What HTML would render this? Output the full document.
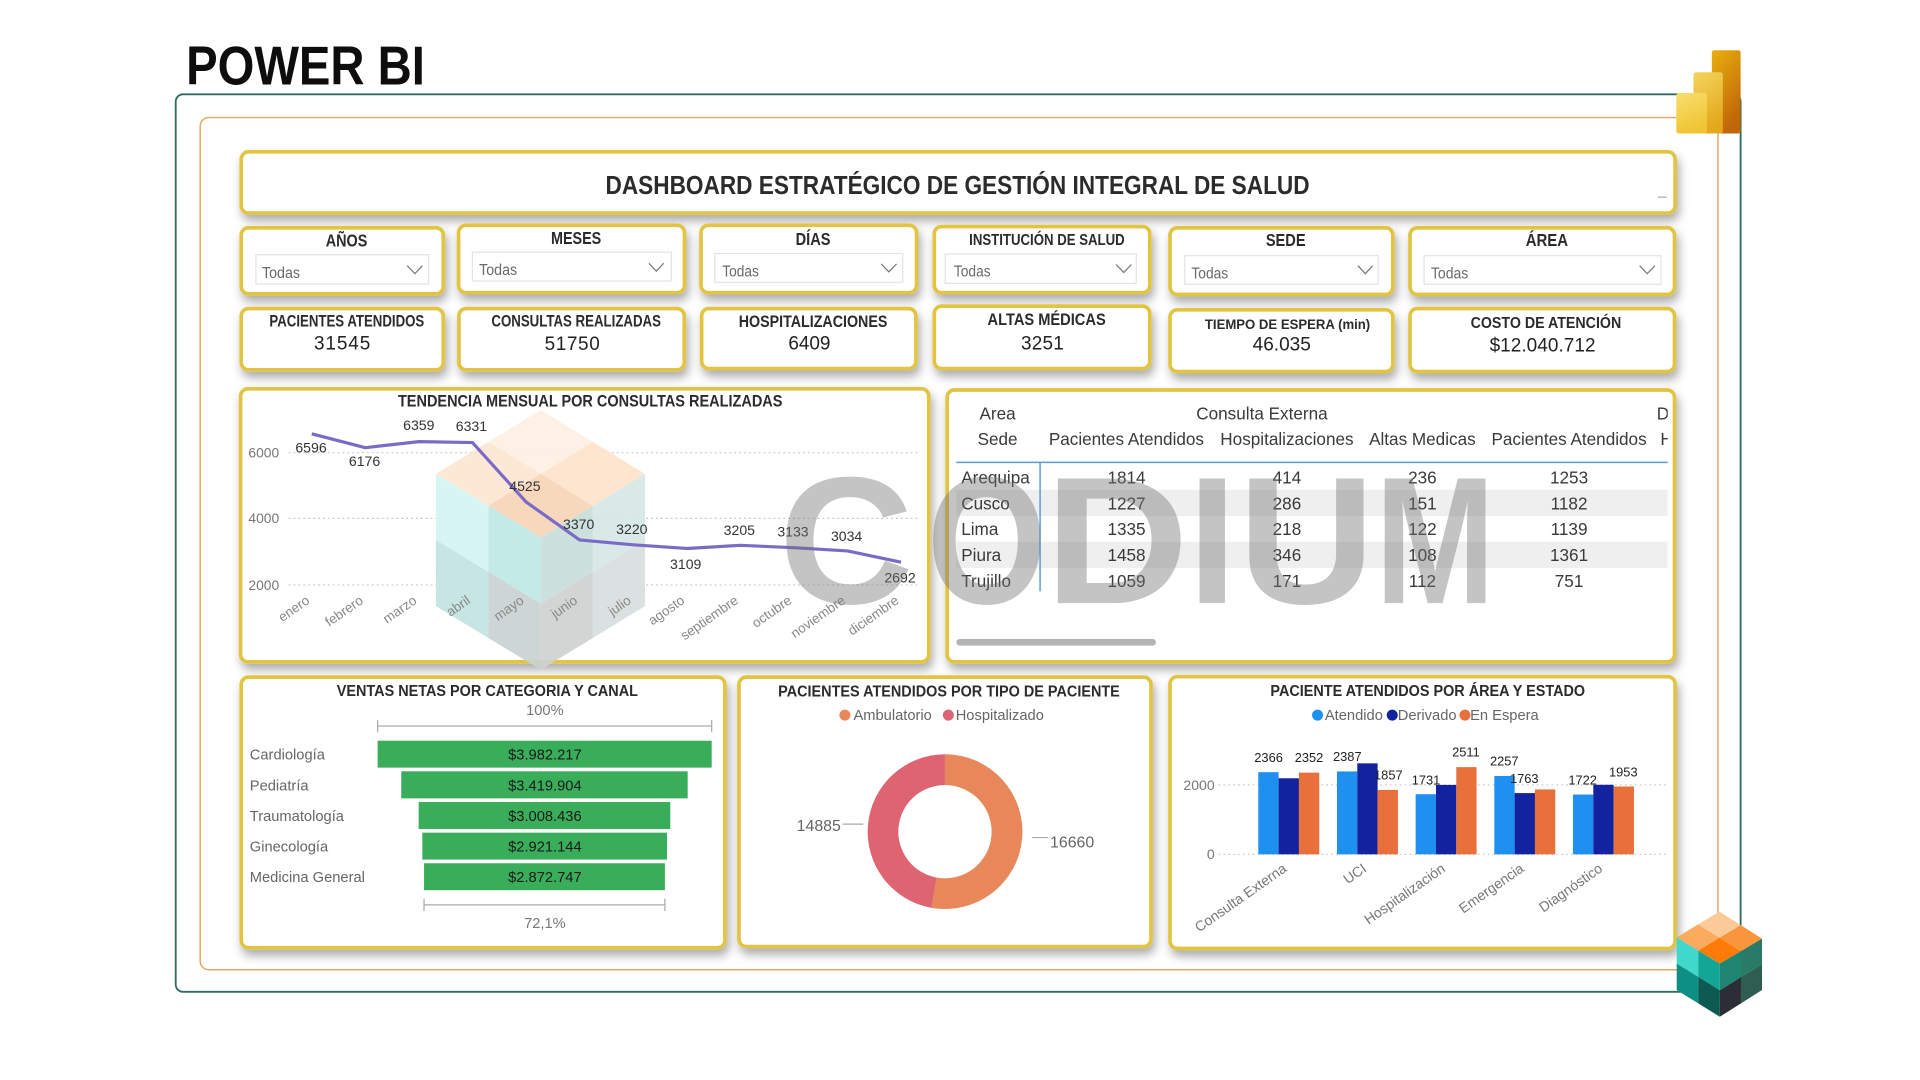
<!DOCTYPE html>
<html><head><meta charset="utf-8"><title>Power BI Dashboard</title>
<style>
html,body{margin:0;padding:0;background:#fff;width:1920px;height:1080px;overflow:hidden}
svg{display:block}
text{font-family:"Liberation Sans",sans-serif}
.b{font-weight:bold}
</style></head><body>
<svg xmlns="http://www.w3.org/2000/svg" width="1920" height="1080" viewBox="0 0 1568 882">
<defs>
<filter id="sh" x="-10%" y="-20%" width="125%" height="150%"><feDropShadow dx="2" dy="5" stdDeviation="4" flood-color="#000" flood-opacity="0.33"/></filter>
<linearGradient id="g1" x1="0" y1="0" x2="0.4" y2="1"><stop offset="0" stop-color="#e8b00c"/><stop offset="1" stop-color="#c2660a"/></linearGradient>
<linearGradient id="g2" x1="0" y1="0" x2="0.3" y2="1"><stop offset="0" stop-color="#f4d45e"/><stop offset="1" stop-color="#e3a81c"/></linearGradient>
<linearGradient id="g3" x1="0" y1="0" x2="0.3" y2="1"><stop offset="0" stop-color="#f8de6e"/><stop offset="1" stop-color="#efc535"/></linearGradient>
<clipPath id="tc"><rect x="778" y="322" width="584" height="214"/></clipPath>
</defs>
<rect width="1568" height="882" fill="#fff"/>

<!-- Heading -->
<text x="152" y="69" font-size="45" class="b" fill="#0d0d0d" textLength="195" lengthAdjust="spacingAndGlyphs">POWER BI</text>

<!-- Frames -->
<rect x="143.5" y="77" width="1278" height="733" rx="6" fill="none" stroke="#2f6b5f" stroke-width="1.5"/>
<rect x="163.5" y="96" width="1239.5" height="696" rx="7" fill="none" stroke="#e9a65d" stroke-width="1.2"/>

<!-- Cards -->
<g filter="url(#sh)" fill="#fff" stroke="#e2c443" stroke-width="3">
<rect x="197" y="124" width="1171" height="50" rx="6"/>
<rect x="197" y="186" width="165" height="54" rx="6"/>
<rect x="374.5" y="184" width="184.5" height="55" rx="6"/>
<rect x="572.5" y="184" width="176" height="55" rx="6"/>
<rect x="763" y="185" width="176" height="54" rx="6"/>
<rect x="955.5" y="186" width="182" height="54.5" rx="6"/>
<rect x="1151.5" y="186" width="216" height="54.5" rx="6"/>
<rect x="197" y="252" width="165" height="50" rx="6"/>
<rect x="374.8" y="252" width="184" height="50" rx="6"/>
<rect x="573" y="252" width="175" height="49" rx="6"/>
<rect x="763" y="250" width="176" height="51" rx="6"/>
<rect x="955.5" y="253" width="182" height="50.5" rx="6"/>
<rect x="1151.5" y="252" width="216" height="51.5" rx="6"/>
<rect x="196.5" y="317.5" width="562" height="223" rx="6"/>
<rect x="773.5" y="318.5" width="594" height="222" rx="6"/>
<rect x="197" y="553" width="395" height="221" rx="6"/>
<rect x="603.5" y="553" width="336.5" height="220" rx="6"/>
<rect x="955.5" y="552.6" width="412.5" height="222" rx="6"/>
</g>

<!-- Title -->
<text x="782" y="158.5" font-size="21" class="b" fill="#2b2b2b" text-anchor="middle" textLength="575" lengthAdjust="spacingAndGlyphs">DASHBOARD ESTRATÉGICO DE GESTIÓN INTEGRAL DE SALUD</text>
<line x1="1354" y1="161" x2="1361" y2="161" stroke="#aaa" stroke-width="1"/>

<!-- Slicers -->
<g class="b" font-size="14" fill="#2b2b2b" text-anchor="middle">
<text x="283" y="201.5" textLength="34" lengthAdjust="spacingAndGlyphs">AÑOS</text>
<text x="470.5" y="199.3" textLength="41" lengthAdjust="spacingAndGlyphs">MESES</text>
<text x="664" y="200" textLength="28.5" lengthAdjust="spacingAndGlyphs">DÍAS</text>
<text x="855" y="200" font-size="12.5" textLength="127" lengthAdjust="spacingAndGlyphs">INSTITUCIÓN DE SALUD</text>
<text x="1050" y="201" textLength="32.5" lengthAdjust="spacingAndGlyphs">SEDE</text>
<text x="1263.3" y="201" textLength="34.6" lengthAdjust="spacingAndGlyphs">ÁREA</text>
</g>
<g fill="#fff" stroke="#e4e4e4" stroke-width="1">
<rect x="209" y="208" width="141" height="24"/>
<rect x="385.8" y="206" width="162.5" height="23.5"/>
<rect x="583.7" y="207" width="153.5" height="23.5"/>
<rect x="772" y="207.4" width="156" height="24"/>
<rect x="967.5" y="208.8" width="158" height="23.4"/>
<rect x="1163" y="208.8" width="193.5" height="23.4"/>
</g>
<g font-size="12.5" fill="#6a6a6a">
<text x="214" y="227" textLength="31" lengthAdjust="spacingAndGlyphs">Todas</text>
<text x="391.3" y="224.5" textLength="31" lengthAdjust="spacingAndGlyphs">Todas</text>
<text x="589.8" y="226" textLength="30" lengthAdjust="spacingAndGlyphs">Todas</text>
<text x="779" y="226" textLength="30" lengthAdjust="spacingAndGlyphs">Todas</text>
<text x="973" y="227.3" textLength="30" lengthAdjust="spacingAndGlyphs">Todas</text>
<text x="1168.6" y="227.3" textLength="30.5" lengthAdjust="spacingAndGlyphs">Todas</text>
</g>
<g fill="none" stroke="#777" stroke-width="1">
<polyline points="332.6,217 338.8,223.5 345,217"/>
<polyline points="530,215 536,221.5 542,215"/>
<polyline points="719.6,215.5 725.9,222 732.2,215.5"/>
<polyline points="911.4,216 917.7,222.5 924,216"/>
<polyline points="1109,217 1115,223.5 1121,217"/>
<polyline points="1339,217 1345.2,223.5 1351.5,217"/>
</g>

<!-- KPIs -->
<g class="b" font-size="13.4" fill="#2b2b2b">
<text x="220" y="266.8" textLength="126.5" lengthAdjust="spacingAndGlyphs">PACIENTES ATENDIDOS</text>
<text x="401.3" y="266.8" textLength="138.5" lengthAdjust="spacingAndGlyphs">CONSULTAS REALIZADAS</text>
<text x="603.3" y="267" textLength="121.4" lengthAdjust="spacingAndGlyphs">HOSPITALIZACIONES</text>
<text x="806.5" y="265.4" textLength="96.5" lengthAdjust="spacingAndGlyphs">ALTAS MÉDICAS</text>
<text x="984" y="268.5" font-size="11.5" textLength="135" lengthAdjust="spacingAndGlyphs">TIEMPO DE ESPERA (min)</text>
<text x="1201" y="268" font-size="13" textLength="123" lengthAdjust="spacingAndGlyphs">COSTO DE ATENCIÓN</text>
</g>
<g font-size="15.5" fill="#222">
<text x="256.4" y="285.3" textLength="46" lengthAdjust="spacing">31545</text>
<text x="444.8" y="285.8" textLength="45" lengthAdjust="spacing">51750</text>
<text x="643.8" y="285.3" textLength="34.4" lengthAdjust="spacing">6409</text>
<text x="833.8" y="285.3" textLength="35" lengthAdjust="spacing">3251</text>
<text x="1023" y="286.4" textLength="47.5" lengthAdjust="spacingAndGlyphs">46.035</text>
<text x="1216.5" y="287" textLength="86.5" lengthAdjust="spacing">$12.040.712</text>
</g>

<!-- Line chart -->
<text x="482" y="332" font-size="13.5" class="b" fill="#2b2b2b" text-anchor="middle" textLength="314" lengthAdjust="spacingAndGlyphs">TENDENCIA MENSUAL POR CONSULTAS REALIZADAS</text>
<g stroke="#c8c8c8" stroke-width="1" stroke-dasharray="1.5,2.5">
<line x1="235.7" y1="369.7" x2="751" y2="369.7"/>
<line x1="235.7" y1="423.3" x2="751" y2="423.3"/>
<line x1="235.7" y1="477.7" x2="751" y2="477.7"/>
</g>
<g font-size="11.3" fill="#777" text-anchor="end">
<text x="228" y="373.7">6000</text>
<text x="228" y="427.3">4000</text>
<text x="228" y="481.7">2000</text>
</g>
<!-- faded cube -->
<g opacity="0.92">
<polygon points="441.6,334.8 484.2,360.9 441.6,387 398.8,360.9" fill="#fdf0e3"/>
<polygon points="398.8,360.9 441.6,387 398.8,413 356,387" fill="#fde6d2"/>
<polygon points="484.2,360.9 526.8,387 484.2,413 441.6,387" fill="#fde3cc"/>
<polygon points="441.6,387 484.2,413 441.6,439 398.8,413" fill="#f8d5b8"/>
<polygon points="356,387 398.8,413 398.8,467 356,441" fill="#d3f5f2"/>
<polygon points="398.8,413 441.6,439 441.6,493 398.8,467" fill="#bfe9e5"/>
<polygon points="356,441 398.8,467 398.8,521 356,495" fill="#c3e3e0"/>
<polygon points="398.8,467 441.6,493 441.6,547 398.8,521" fill="#c9d3d2"/>
<polygon points="441.6,439 484.2,413 484.2,467 441.6,493" fill="#c8dedb"/>
<polygon points="484.2,413 526.8,387 526.8,441 484.2,467" fill="#d5e8e5"/>
<polygon points="441.6,493 484.2,467 484.2,521 441.6,547" fill="#d0d2d2"/>
<polygon points="484.2,467 526.8,441 526.8,495 484.2,521" fill="#d8dfde"/>
</g>
<polyline fill="none" stroke="#7c6bc6" stroke-width="2.6" stroke-linejoin="round" points="254.6,354.3 298.35,365.58 342.1,360.66 385.85,361.41 429.6,409.9 473.35,440.92 517.1,444.94 560.85,447.92 604.6,445.35 648.35,447.28 692.1,449.94 735.85,459.12"/>
<g font-size="11.5" fill="#333" text-anchor="middle">
<text x="254" y="369.5">6596</text>
<text x="297.7" y="380.5">6176</text>
<text x="342" y="351">6359</text>
<text x="385" y="352">6331</text>
<text x="428.7" y="401">4525</text>
<text x="472.6" y="432">3370</text>
<text x="516" y="436">3220</text>
<text x="560" y="464.6">3109</text>
<text x="603.8" y="436.8">3205</text>
<text x="647.6" y="438">3133</text>
<text x="691.4" y="441.7">3034</text>
<text x="735" y="475.7">2692</text>
</g>
<g font-size="11" fill="#888" text-anchor="end">
<text transform="translate(253.6,492) rotate(-35)">enero</text>
<text transform="translate(297.35,492) rotate(-35)">febrero</text>
<text transform="translate(341.1,492) rotate(-35)">marzo</text>
<text transform="translate(384.85,492) rotate(-35)">abril</text>
<text transform="translate(428.6,492) rotate(-35)">mayo</text>
<text transform="translate(472.35,492) rotate(-35)">junio</text>
<text transform="translate(516.1,492) rotate(-35)">julio</text>
<text transform="translate(559.85,492) rotate(-35)">agosto</text>
<text transform="translate(603.6,492) rotate(-35)">septiembre</text>
<text transform="translate(647.35,492) rotate(-35)">octubre</text>
<text transform="translate(691.1,492) rotate(-35)">noviembre</text>
<text transform="translate(734.85,492) rotate(-35)">diciembre</text>
</g>

<!-- Table -->
<g clip-path="url(#tc)">
<rect x="781" y="400" width="581" height="21.5" fill="#efefef"/>
<rect x="781" y="442.4" width="581" height="21.5" fill="#efefef"/>
<g font-size="14" fill="#3a3a3a" text-anchor="middle">
<text x="814.7" y="342.5">Area</text>
<text x="1030.6" y="342.5">Consulta Externa</text>
<text x="1353" y="342.5" text-anchor="start">D</text>
<text x="814.7" y="363.5">Sede</text>
<text x="919.9" y="363.5">Pacientes Atendidos</text>
<text x="1051" y="363.5">Hospitalizaciones</text>
<text x="1161.6" y="363.5">Altas Medicas</text>
<text x="1281.4" y="363.5">Pacientes Atendidos</text>
<text x="1356" y="363.5" text-anchor="start">H</text>
</g>
<line x1="781" y1="377.6" x2="1362" y2="377.6" stroke="#5b9bd5" stroke-width="1.2"/>
<line x1="849.4" y1="377.6" x2="849.4" y2="483" stroke="#5b9bd5" stroke-width="1.2"/>
<g font-size="14" fill="#3a3a3a">
<text x="785" y="394.8">Arequipa</text>
<text x="785" y="416">Cusco</text>
<text x="785" y="437">Lima</text>
<text x="785" y="458.2">Piura</text>
<text x="785" y="479.5">Trujillo</text>
</g>
<g font-size="14" fill="#3a3a3a" text-anchor="middle">
<text x="920" y="394.8">1814</text><text x="1051" y="394.8">414</text><text x="1161.6" y="394.8">236</text><text x="1281.4" y="394.8">1253</text>
<text x="920" y="416">1227</text><text x="1051" y="416">286</text><text x="1161.6" y="416">151</text><text x="1281.4" y="416">1182</text>
<text x="920" y="437">1335</text><text x="1051" y="437">218</text><text x="1161.6" y="437">122</text><text x="1281.4" y="437">1139</text>
<text x="920" y="458.2">1458</text><text x="1051" y="458.2">346</text><text x="1161.6" y="458.2">108</text><text x="1281.4" y="458.2">1361</text>
<text x="920" y="479.5">1059</text><text x="1051" y="479.5">171</text><text x="1161.6" y="479.5">112</text><text x="1281.4" y="479.5">751</text>
</g>
</g>
<rect x="781" y="521.8" width="163" height="5.5" rx="2.75" fill="#b4b4b4"/>

<!-- Funnel -->
<text x="398" y="568.4" font-size="13" class="b" fill="#2b2b2b" text-anchor="middle" textLength="246" lengthAdjust="spacingAndGlyphs">VENTAS NETAS POR CATEGORIA Y CANAL</text>
<text x="445" y="584" font-size="12" fill="#777" text-anchor="middle">100%</text>
<g stroke="#aaa" stroke-width="1">
<line x1="308.4" y1="592.9" x2="581.2" y2="592.9"/>
<line x1="308.4" y1="588" x2="308.4" y2="598"/>
<line x1="581.2" y1="588" x2="581.2" y2="598"/>
<line x1="346.3" y1="739" x2="543" y2="739"/>
<line x1="346.3" y1="734" x2="346.3" y2="744"/>
<line x1="543" y1="734" x2="543" y2="744"/>
</g>
<g fill="#3aad5a">
<rect x="308.4" y="604.9" width="272.8" height="22"/>
<rect x="327.7" y="629.9" width="233.9" height="22.1"/>
<rect x="341.9" y="655" width="205.5" height="22"/>
<rect x="344.9" y="680" width="199.8" height="22"/>
<rect x="346.3" y="705" width="196.7" height="22"/>
</g>
<g font-size="12" fill="#1a1a1a" text-anchor="middle">
<text x="445" y="620.4">$3.982.217</text>
<text x="445" y="645.4">$3.419.904</text>
<text x="445" y="670.5">$3.008.436</text>
<text x="445" y="695.5">$2.921.144</text>
<text x="445" y="720.5">$2.872.747</text>
</g>
<g font-size="12" fill="#666">
<text x="204" y="620.4">Cardiología</text>
<text x="204" y="645.4">Pediatría</text>
<text x="204" y="670.5">Traumatología</text>
<text x="204" y="695.5">Ginecología</text>
<text x="204" y="720.5">Medicina General</text>
</g>
<text x="445" y="758" font-size="12" fill="#777" text-anchor="middle">72,1%</text>

<!-- Donut -->
<text x="775" y="569" font-size="13" class="b" fill="#2b2b2b" text-anchor="middle" textLength="279" lengthAdjust="spacingAndGlyphs">PACIENTES ATENDIDOS POR TIPO DE PACIENTE</text>
<circle cx="690" cy="584" r="4.5" fill="#e8875a"/>
<text x="697" y="588" font-size="12" fill="#666">Ambulatorio</text>
<circle cx="774.5" cy="584" r="4.5" fill="#dd6470"/>
<text x="780.5" y="588" font-size="12" fill="#666">Hospitalizado</text>
<path d="M771.7,616 A63.2,63.2 0 1 1 760.6,741.4 L765,716.7 A38.1,38.1 0 1 0 771.7,641.1 Z" fill="#e8875a"/>
<path d="M760.6,741.4 A63.2,63.2 0 0 1 771.7,616 L771.7,641.1 A38.1,38.1 0 0 0 765,716.7 Z" fill="#dd6470"/>
<line x1="688" y1="673" x2="705" y2="673" stroke="#aaa"/>
<line x1="843" y1="684" x2="856" y2="684" stroke="#aaa"/>
<text x="650.6" y="678.8" font-size="13" fill="#666">14885</text>
<text x="857.5" y="692" font-size="13" fill="#666">16660</text>

<!-- Bar chart -->
<text x="1166" y="568.4" font-size="13" class="b" fill="#2b2b2b" text-anchor="middle" textLength="257" lengthAdjust="spacingAndGlyphs">PACIENTE ATENDIDOS POR ÁREA Y ESTADO</text>
<circle cx="1076" cy="584" r="4.5" fill="#1e90f0"/>
<text x="1082" y="588" font-size="12" fill="#666">Atendido</text>
<circle cx="1137" cy="584" r="4.5" fill="#13239f"/>
<text x="1141.5" y="588" font-size="12" fill="#666">Derivado</text>
<circle cx="1196.4" cy="584" r="4.5" fill="#e8703a"/>
<text x="1200.6" y="588" font-size="12" fill="#666">En Espera</text>
<g stroke="#cfcfcf" stroke-width="1" stroke-dasharray="1.5,2.5">
<line x1="995" y1="641" x2="1361" y2="641"/>
<line x1="995" y1="697.7" x2="1361" y2="697.7"/>
</g>
<g font-size="11.5" fill="#777" text-anchor="end">
<text x="992" y="645">2000</text>
<text x="992" y="701.5">0</text>
</g>
<g fill="#1e90f0">
<rect x="1027.6" y="630.6" width="16.6" height="67.1"/>
<rect x="1091.85" y="630" width="16.6" height="67.7"/>
<rect x="1156.1" y="648.6" width="16.6" height="49.1"/>
<rect x="1220.35" y="633.7" width="16.6" height="64"/>
<rect x="1284.6" y="648.9" width="16.6" height="48.8"/>
</g>
<g fill="#13239f">
<rect x="1044.2" y="635.6" width="16.6" height="62.1"/>
<rect x="1108.45" y="623.4" width="16.6" height="74.3"/>
<rect x="1172.7" y="641" width="16.6" height="56.7"/>
<rect x="1236.95" y="647.7" width="16.6" height="50"/>
<rect x="1301.2" y="640.9" width="16.6" height="56.8"/>
</g>
<g fill="#e8703a">
<rect x="1060.8" y="631" width="16.6" height="66.7"/>
<rect x="1125.05" y="645.1" width="16.6" height="52.6"/>
<rect x="1189.3" y="626.5" width="16.6" height="71.2"/>
<rect x="1253.55" y="644.7" width="16.6" height="53"/>
<rect x="1317.8" y="642.3" width="16.6" height="55.4"/>
</g>
<g font-size="10.5" fill="#222" text-anchor="middle">
<text x="1036" y="622.5">2366</text>
<text x="1069" y="622.5">2352</text>
<text x="1100.3" y="621.5">2387</text>
<text x="1133.8" y="636.4">1857</text>
<text x="1164.6" y="640.5">1731</text>
<text x="1197.2" y="618">2511</text>
<text x="1228.5" y="625.2">2257</text>
<text x="1244.8" y="639.6">1763</text>
<text x="1292.5" y="640.5">1722</text>
<text x="1325.7" y="634.2">1953</text>
</g>
<g font-size="11.5" fill="#777" text-anchor="end">
<text transform="translate(1051.5,711) rotate(-35)">Consulta Externa</text>
<text transform="translate(1116.75,711) rotate(-35)">UCI</text>
<text transform="translate(1181,711) rotate(-35)">Hospitalización</text>
<text transform="translate(1245.25,711) rotate(-35)">Emergencia</text>
<text transform="translate(1309.5,711) rotate(-35)">Diagnóstico</text>
</g>

<!-- CODIUM watermark -->
<g font-size="148" class="b" fill="rgba(115,115,115,0.42)">
<text x="636" y="492.6" textLength="110" lengthAdjust="spacingAndGlyphs">C</text>
<text x="757" y="492.6" textLength="98" lengthAdjust="spacingAndGlyphs">O</text>
<text x="853" y="492.6" textLength="118" lengthAdjust="spacingAndGlyphs">D</text>
<text x="970" y="492.6" textLength="40" lengthAdjust="spacingAndGlyphs">I</text>
<text x="1011" y="492.6" textLength="112" lengthAdjust="spacingAndGlyphs">U</text>
<text x="1123" y="492.6" textLength="98" lengthAdjust="spacingAndGlyphs">M</text>
</g>

<!-- Power BI logo -->
<rect x="1398" y="41" width="23.5" height="68" rx="2" fill="url(#g1)"/>
<rect x="1383" y="59" width="24" height="50" rx="2" fill="url(#g2)"/>
<rect x="1369" y="76" width="25" height="33" rx="2" fill="url(#g3)"/>

<!-- Bottom cube -->
<g>
<polygon points="1404.2,744.5 1421.6,755.5 1404.3,765.8 1386.7,755" fill="#fcca98"/>
<polygon points="1386.7,755 1404.3,765.8 1386.9,776.3 1369.3,765.5" fill="#faab5e"/>
<polygon points="1421.6,755.5 1439,766.5 1421.8,776.8 1404.3,765.8" fill="#f9963c"/>
<polygon points="1404.3,765.8 1421.8,776.8 1404.5,787 1386.9,776.3" fill="#ff7b08"/>
<polygon points="1369.3,765.5 1386.9,776.3 1386.9,797.8 1369.3,787" fill="#3fd8cb"/>
<polygon points="1386.9,776.3 1404.5,787 1404.5,808.7 1386.9,797.8" fill="#13a596"/>
<polygon points="1369.3,787 1386.9,797.8 1386.9,819.4 1369.3,808.5" fill="#0e8f84"/>
<polygon points="1386.9,797.8 1404.5,808.7 1404.5,830.3 1386.9,819.4" fill="#0c5a52"/>
<polygon points="1404.5,787 1421.8,776.8 1421.8,798 1404.5,808.7" fill="#1f8573"/>
<polygon points="1421.8,776.8 1439,766.5 1439,787.5 1421.8,798" fill="#2a7a68"/>
<polygon points="1404.5,808.7 1421.8,798 1421.8,819.4 1404.5,830.3" fill="#2b2f35"/>
<polygon points="1421.8,798 1439,787.5 1439,808.5 1421.8,819.4" fill="#2f5d4f"/>
</g>
</svg>
</body></html>
